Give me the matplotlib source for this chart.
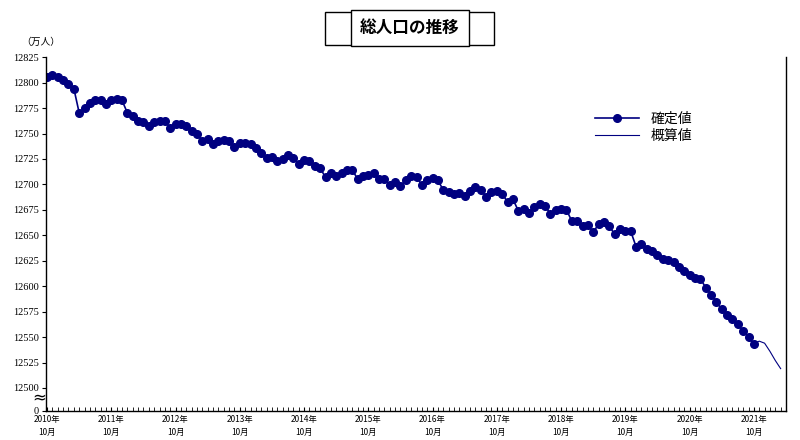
import matplotlib
matplotlib.use("Agg")
import matplotlib.pyplot as plt
import numpy as np

plt.rcParams['font.family'] = ['Noto Sans CJK JP', 'DejaVu Sans']

confirmed = [12805.6, 12807.3, 12805.6, 12802.4, 12798.5, 12794.2, 12770.3, 12774.6, 12780, 12782.5,
             12783, 12779.5, 12782.5, 12783.5, 12782.5, 12770.3, 12767.5, 12762.5, 12761.5, 12757.5,
             12761, 12762.5, 12762, 12755.5, 12759, 12759, 12757.8, 12752.5, 12750,
             12742.5, 12745, 12740, 12742.5, 12743.5, 12743, 12737, 12741, 12741,
             12739.5, 12735.5, 12730.5, 12726, 12727, 12723, 12724.5, 12728.5, 12726.3, 12720,
             12724, 12723, 12718, 12716, 12707, 12711, 12708, 12711, 12714.5,
             12714, 12705.5, 12708.5, 12709, 12711, 12705.3, 12705.3, 12699, 12702.8,
             12698.6, 12704.2, 12708, 12707.5, 12699.3, 12704.5, 12706, 12704, 12694.4, 12693,
             12690.5, 12692, 12688.5, 12693.8, 12697, 12694.4, 12688, 12692.2, 12693.5, 12691,
             12682.5, 12685.5, 12674.2, 12676, 12672.4, 12678.2, 12680.8, 12679, 12671, 12675,
             12676, 12675, 12664, 12664, 12659, 12660, 12653, 12661, 12662.6, 12659,
             12651, 12656, 12654.5, 12654, 12638.8, 12641, 12637, 12634.8, 12631, 12627.2,
             12626.2, 12624, 12619, 12614.7, 12610.8, 12608.5, 12607.5, 12598.6, 12591.7, 12584.5,
             12577.3, 12572, 12567.5, 12562.6, 12556, 12550, 12543.5]
estimate = [12543.5, 12546, 12544, 12536, 12527, 12519]
years = ['2010', '2011', '2012', '2013', '2014', '2015', '2016', '2017', '2018', '2019', '2020', '2021']

navy = '#000080'
fig = plt.figure(figsize=(8, 4.4), dpi=100)
ax = fig.add_axes([0.0575, 0.066, 0.925, 0.804])

x_c = np.arange(len(confirmed))
x_e = np.arange(len(confirmed) - 1, len(confirmed) - 1 + len(estimate))
ax.plot(x_c, confirmed, color=navy, marker='o', markersize=5.5, lw=1.2, label='確定値')
ax.plot(x_e, estimate, color=navy, lw=0.8, label='概算値')

y0 = 12477.4
ax.set_ylim(y0, 12825)
ax.set_xlim(-0.2, 138)
yt = list(range(12500, 12826, 25))
ax.set_yticks([y0] + yt)
ax.set_yticklabels(['0'] + [str(v) for v in yt], fontsize=7.5, family='Liberation Serif')
ax.tick_params(axis='y', length=3, direction='out', pad=2)
ax.set_xticks(np.arange(0, 12 * len(years), 12))
ax.set_xticklabels([f'{y}年\n10月' for y in years], fontsize=6, linespacing=1.6)
ax.set_xticks(np.arange(0, 138, 1), minor=True)
ax.tick_params(axis='x', which='both', direction='in', length=3, pad=3)
ax.spines['top'].set_visible(False)
for s in ['left', 'bottom', 'right']:
    ax.spines[s].set_linewidth(1.0)
ax.text(-1.5, y0 + 13, '≈', fontsize=12, ha='center', va='center',
        family='DejaVu Sans', clip_on=False)

leg = ax.legend(loc='upper left', bbox_to_anchor=(0.725, 0.88), frameon=False, fontsize=10,
                handlelength=3.2, labelspacing=0.2)

fig.text(0.026, 0.905, '（万人）', fontsize=7, ha='left', va='center')
fig.text(0.512, 0.936, '総人口の推移', fontsize=12, fontweight='bold', ha='center', va='center',
         bbox=dict(facecolor='white', edgecolor='black', boxstyle='square,pad=0.55', lw=1))
fig.patches.append(plt.Rectangle((0.406, 0.898), 0.212, 0.075, transform=fig.transFigure,
                                 fill=False, edgecolor='black', lw=1))
fig.savefig('out.png', dpi=100)
